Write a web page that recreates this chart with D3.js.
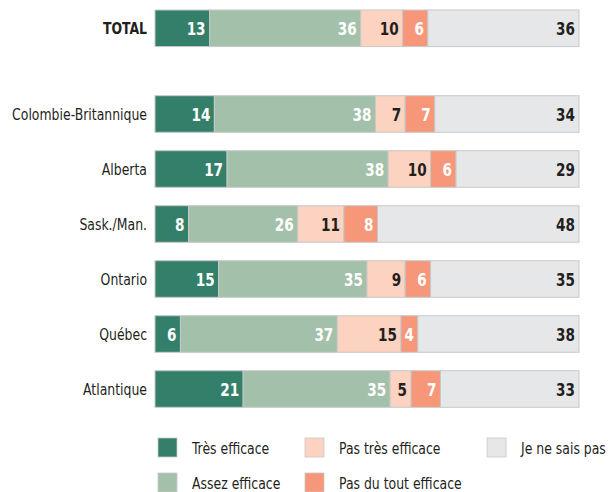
<!DOCTYPE html>
<html>
<head>
<meta charset="utf-8">
<script src="https://cdn.jsdelivr.net/npm/d3@7"></script>
<style>
  body { margin: 0; background: #fff; }
  text { font-family: "DejaVu Sans Condensed", "DejaVu Sans", sans-serif; font-stretch: condensed; }
</style>
</head>
<body>
<svg id="chart" width="611" height="492"></svg>
<script>
// données
const categories = ["TOTAL", "Colombie-Britannique", "Alberta", "Sask./Man.", "Ontario", "Québec", "Atlantique"];
const seriesNames = ["Très efficace", "Assez efficace", "Pas très efficace", "Pas du tout efficace", "Je ne sais pas"];
const tresEfficace    = [13, 14, 17, 8, 15, 6, 21];
const assezEfficace   = [36, 38, 38, 26, 35, 37, 35];
const pasTresEfficace = [10, 7, 10, 11, 9, 15, 5];
const pasDuTout       = [6, 7, 6, 8, 6, 4, 7];
const neSaisPas       = [36, 34, 29, 48, 35, 38, 33];

const colors = ["#347f69", "#a3c1aa", "#fcd2c0", "#f6977a", "#e6e7e9"];
const labelColors = ["#fff", "#fff", "#231f20", "#fff", "#231f20"];
const squeeze = 0.84; // imite une police condensée

const svg = d3.select('#chart');
const values = [tresEfficace, assezEfficace, pasTresEfficace, pasDuTout, neSaisPas];

const rows = categories.map((c, i) => {
    let vals = values.map(v => v[i]);
    let total = d3.sum(vals), acc = 0;
    return {
        cat: c,
        segs: vals.map((v, k) => { let s = {k, v, x0: acc / total, x1: (acc + v) / total}; acc += v; return s; })
    };
});

const x = d3.scaleLinear().domain([0, 1]).range([155, 579]);
// TOTAL séparé des régions
const y = d3.scaleBand().domain(categories.slice(1)).range([86.5, 416.5]).paddingInner(0.335).paddingOuter(0.1675);
const barH = y.bandwidth();
const yPos = c => c === "TOTAL" ? 10 : y(c);

const row = svg.selectAll('g.row').data(rows).enter().append('g')
    .attr('class', 'row')
    .attr('transform', d => `translate(0,${yPos(d.cat)})`);

row.append('text')
    .attr('transform', `translate(147,${barH / 2}) scale(${squeeze},1)`)
    .attr('dy', '0.35em')
    .attr('text-anchor', 'end')
    .attr('font-size', 16.5)
    .attr('font-weight', d => d.cat === "TOTAL" ? 'bold' : 'normal')
    .attr('fill', '#231f20')
    .text(d => d.cat);

const seg = row.selectAll('g.seg').data(d => d.segs).enter().append('g').attr('class', 'seg');

seg.append('rect')
    .attr('x', d => x(d.x0)).attr('y', 0)
    .attr('width', d => x(d.x1) - x(d.x0)).attr('height', barH)
    .attr('fill', d => colors[d.k])
    .attr('stroke', '#c8c8c8').attr('stroke-width', 1);

seg.append('text')
    .attr('transform', d => `translate(${x(d.x1) - 4},${barH / 2}) scale(${squeeze},1)`)
    .attr('dy', '0.37em')
    .attr('text-anchor', 'end')
    .attr('font-size', 18).attr('font-weight', 'bold')
    .attr('fill', d => labelColors[d.k])
    .text(d => d.v);

// légende
const legendPos = [[158, 448], [158, 483], [305, 448], [305, 483], [487, 448]];
const legend = svg.selectAll('g.legend').data(seriesNames).enter().append('g')
    .attr('class', 'legend')
    .attr('transform', (d, i) => `translate(${legendPos[i][0]},${legendPos[i][1]})`);
legend.append('rect').attr('x', 0).attr('y', -10).attr('width', 19).attr('height', 19)
    .attr('fill', (d, i) => colors[i]).attr('stroke', '#c8c8c8').attr('stroke-width', 0.8);
legend.append('text')
    .attr('transform', `translate(34,0) scale(${squeeze},1)`)
    .attr('dy', '0.35em')
    .attr('font-size', 16.5).attr('fill', '#231f20')
    .text(d => d);
</script>
</body>
</html>
